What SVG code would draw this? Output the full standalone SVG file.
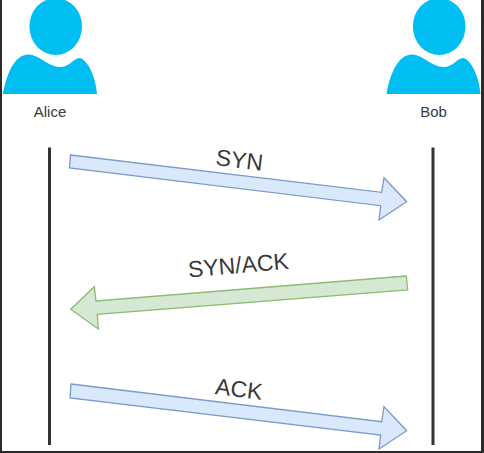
<svg xmlns="http://www.w3.org/2000/svg" width="484" height="453" viewBox="0 0 484 453">
<style>
text{font-family:"Liberation Sans",Arial,sans-serif;fill:#3a3a3a;text-anchor:middle}
.name{font-size:15px}
.lab{font-size:23px}
.life{stroke:#333;stroke-width:3;fill:none}
.blue{fill:#dae8fc;stroke:#7c9bc9;stroke-width:1.3}
.green{fill:#d5e8d4;stroke:#8cbc70;stroke-width:1.3}
.p{fill:#00bef2}
.frame{fill:#2b2b2b}
</style>
<defs>
<g id="person">
<ellipse class="p" cx="55.7" cy="26.5" rx="26.3" ry="28.5"/>
<path class="p" d="M3 94C6 76 14 54 29 54.5C40 55 48 67 60 67C70 67 74 57.5 80 58C88 60 96 78 97 94Z"/>
</g>
</defs>
<rect width="484" height="453" fill="#fff"/>
<g id="frame">
<rect class="frame" x="0" y="0" width="2" height="453"/>
<rect class="frame" x="481" y="0" width="3" height="453"/>
<rect class="frame" x="0" y="451" width="484" height="2"/>
</g>
<g id="alice"><use href="#person"/><text class="name" x="50" y="117">Alice</text></g>
<g id="bob"><use href="#person" x="383.5"/><text class="name" x="433.5" y="117">Bob</text></g>
<g id="connectors">
<line class="life" x1="49.5" y1="147.5" x2="49.5" y2="445"/>
<line class="life" x1="433" y1="147.5" x2="433" y2="445"/>
<polygon class="blue" points="70.5,155 381.7,192.3 384,177.7 406.7,201.7 379,220 380.7,205.7 69.5,168"/>
<polygon class="green" points="406.3,276 96,301 94.3,286.7 70.7,309.3 98.3,329 97.3,314.3 407.7,290"/>
<polygon class="blue" points="71,384 381.7,421.7 384,406.7 406.7,430.7 379,449 380.7,435 70,398"/>
</g>
<text class="lab" transform="translate(238.5 168) rotate(7)">SYN</text>
<text class="lab" transform="translate(239 273) rotate(-5)">SYN/ACK</text>
<text class="lab" transform="translate(238 397) rotate(7)">ACK</text>
</svg>
